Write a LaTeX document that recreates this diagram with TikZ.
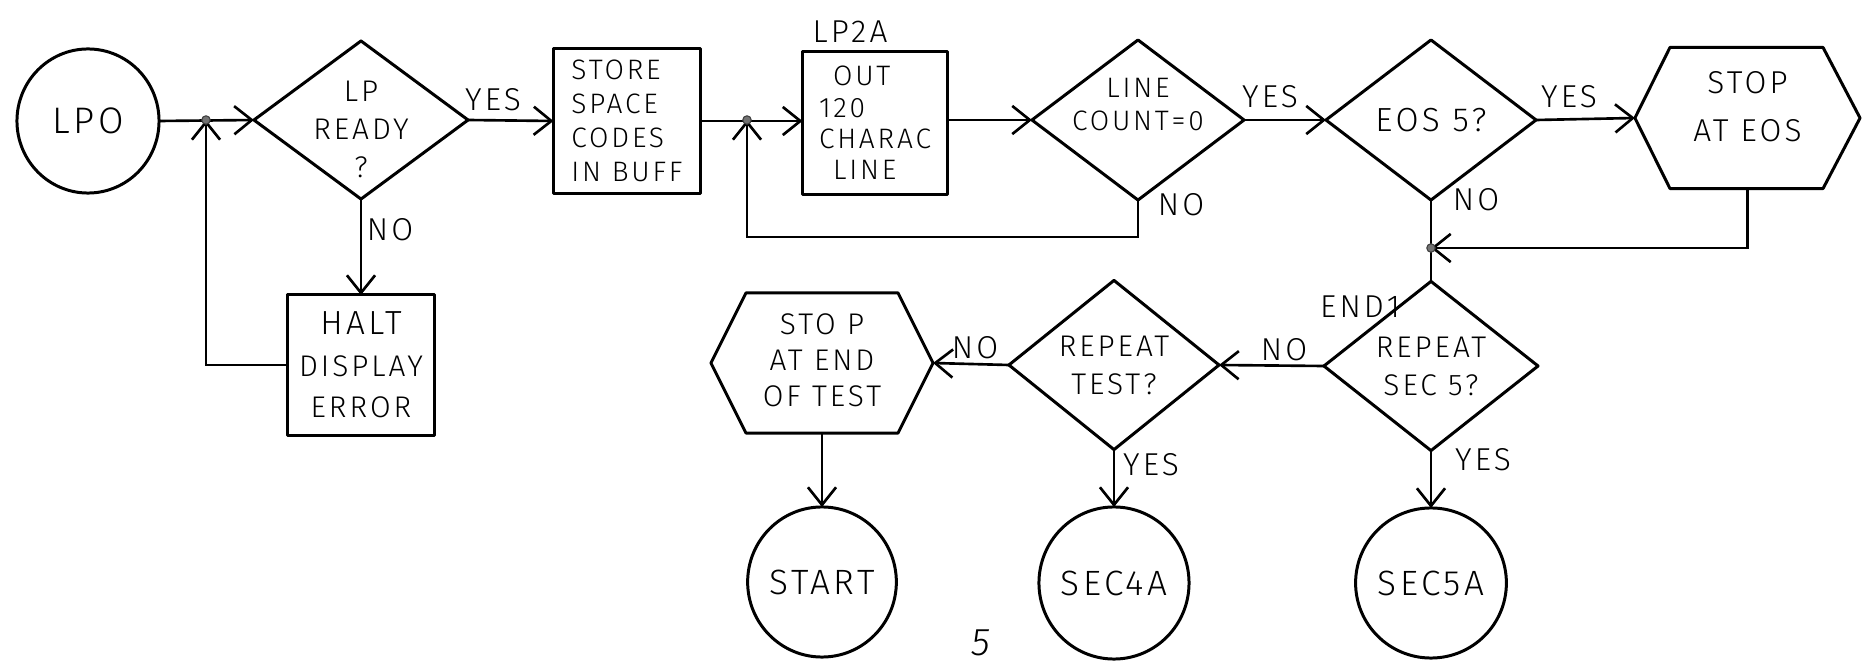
\documentclass[tikz,border=0pt]{standalone}
\usepackage{fontspec}
\setmainfont{Fira Sans}[UprightFont={* Light}, LetterSpace=10]
\usetikzlibrary{arrows.meta,shapes.geometric}
% a stack of centred lines, raised by #1, that reports no height or depth
\newcommand\nudged[2]{\raisebox{#1}[0pt][0pt]{\begin{tabular}{@{}c@{}}#2\end{tabular}}}
\begin{document}
\begin{tikzpicture}[x=0.01cm,y=-0.01cm,
  every node/.style={inner sep=0pt, outer sep=0pt},
  ln/.style={line width=0.75pt},
  flow/.style={ln, -{Straight Barb[length=5pt,width=8pt]}},
  shapeline/.style={line width=0.85pt, line join=round},
  procbox/.style={draw, shapeline, rectangle, minimum width=1.47cm, minimum height=1.44cm},
  decision/.style={draw, shapeline, diamond, minimum width=2.12cm, minimum height=1.58cm, align=center},
  terminal/.style={draw, shapeline, ellipse, minimum width=1.42cm, minimum height=1.5cm},
  hexframe/.style={rectangle, minimum width=2.24cm, minimum height=1.41cm},
  txt/.style={font=\fontsize{8.5}{10.8}\selectfont},
  tag/.style={font=\fontsize{9}{10}\selectfont},
  junction/.style={fill=black!55, draw=black!75, line width=0.3pt}
]
\useasboundingbox (0,0) rectangle (1871,670);

% ---- top row ----
\node[terminal, minimum width=1.42cm, minimum height=1.44cm,
      font=\fontsize{10.5}{12}\selectfont] (lpo) at (88,121) {LPO\hspace{9pt}};
\node[decision, minimum width=2.14cm, align=none, font=\fontsize{8.5}{10.8}\selectfont]
      (ready) at (361,120) {\nudged{-5.3pt}{LP\\READY\\?}};
\node[procbox, minimum height=1.40cm, align=center,
      font=\fontsize{8.5}{11.8}\selectfont] (halt) at (361,365) {{\fontsize{9.5}{11.8}\selectfont HALT}\\DISPLAY\\ERROR};
\node[procbox, minimum height=1.45cm, align=left,
      font=\fontsize{8}{9.7}\selectfont] (store) at (627,121) {STORE\\SPACE\\CODES\\IN BUFF};
\node[procbox, minimum width=1.45cm, minimum height=1.43cm, align=left,
      font=\fontsize{8}{8.9}\selectfont] (lp2a) at (875,123)
      {\hspace*{4pt}OUT\\120\\CHARAC\\\hspace*{4pt}LINE};
\node[tag] (lp2atag) at (850,32) {LP2A};
\node[decision, minimum height=1.60cm, align=none, font=\fontsize{8}{9.5}\selectfont]
      (count) at (1138,120) {\nudged{1.6pt}{LINE\\COUNT=0}};
\node[decision, minimum width=2.10cm, minimum height=1.60cm,
      font=\fontsize{9.5}{11}\selectfont] (eos) at (1431,120) {EOS 5?};
\node[hexframe, minimum width=2.25cm, font=\fontsize{9}{13.5}\selectfont]
      (stopeos) at (1747.5,118) {\nudged{0.55pt}{STOP\\AT EOS}};
\draw[shapeline] (stopeos.west) -- ([xshift=0.35cm]stopeos.north west)
  -- ([xshift=-0.37cm]stopeos.north east) -- (stopeos.east)
  -- ([xshift=-0.37cm]stopeos.south east) -- ([xshift=0.35cm]stopeos.south west) -- cycle;

% ---- bottom row ----
\node[decision, minimum width=2.14cm, txt] (sec5q) at (1431,366) {REPEAT\\SEC 5?};
\node[decision, minimum width=2.10cm, txt] (testq) at (1114,365) {REPEAT\\TEST?};
\node[hexframe, minimum width=2.22cm, minimum height=1.40cm,
      font=\fontsize{8.5}{10.3}\selectfont] (stopend) at (822,363)
      {\nudged{-2.1pt}{STO P\\AT END\\OF TEST}};
\draw[shapeline] (stopend.west) -- ([xshift=0.35cm]stopend.north west)
  -- ([xshift=-0.35cm]stopend.north east) -- (stopend.east)
  -- ([xshift=-0.35cm]stopend.south east) -- ([xshift=0.35cm]stopend.south west) -- cycle;
\node[terminal, font=\fontsize{10}{11}\selectfont] (start) at (822,582) {START};
\node[terminal, minimum width=1.46cm, minimum height=1.52cm,
      font=\fontsize{10}{11}\selectfont] (sec4a) at (1114,583) {SEC4A\hspace{3pt}};
\node[terminal, minimum width=1.40cm, font=\fontsize{10}{11}\selectfont] (sec5a) at (1431,583) {SEC5A};

% ---- branch labels ----
\node[tag] (yes1) at (493,100) {YES};
\node[tag] (no1) at (390,230) {NO};
\node[tag] (yes2) at (1270,97) {YES};
\node[tag] (no2) at (1181,205) {NO};
\node[tag] (yes3) at (1569,97) {YES};
\node[tag] (no3) at (1476,200) {NO};
\node[tag] (end1) at (1360,307) {END1};
\node[tag] (no4) at (1284,350) {NO};
\node[tag] (no5) at (975,348) {NO};
\node[tag] (yes4) at (1151,465) {YES};
\node[tag] (yes5) at (1483,460) {YES};
\node[font=\fontsize{11}{12}\selectfont\itshape] (page) at (981,643) {5};

% ---- connectors ----
\coordinate (j1) at (206,120);
\coordinate (j2) at (747,120);
\coordinate (j3) at (1431,248);
\coordinate (c2) at (747,237);

\draw[flow] (lpo.east) -- (ready.west);
\draw[flow] (ready.south) -- (halt.north);
\draw[flow] (halt.west) -| (j1);
\draw[flow] (ready.east) -- (store.west);
\draw[flow] (store.east) -- (lp2a.west |- store.east);
\draw[flow] (count.south) |- (c2) -- (j2);
\draw[flow] (lp2a.east |- count.west) -- (count.west);
\draw[flow] (count.east) -- (eos.west);
\draw[flow] (eos.east) -- (stopeos.west);
\draw[ln] (eos.south) -- (sec5q.north);
\draw[flow] (stopeos.south) |- (j3);
\draw[flow] (sec5q.west) -- (testq.east);
\draw[flow] (testq.west) -- (stopend.east);
\draw[flow] (stopend.south) -- (start.north);
\draw[flow] (testq.south) -- (sec4a.north);
\draw[flow] (sec5q.south) -- (sec5a.north);

% junction marks
\foreach \j in {j1,j2,j3} \draw[junction] (\j) circle (1.2pt);
\end{tikzpicture}
\end{document}
